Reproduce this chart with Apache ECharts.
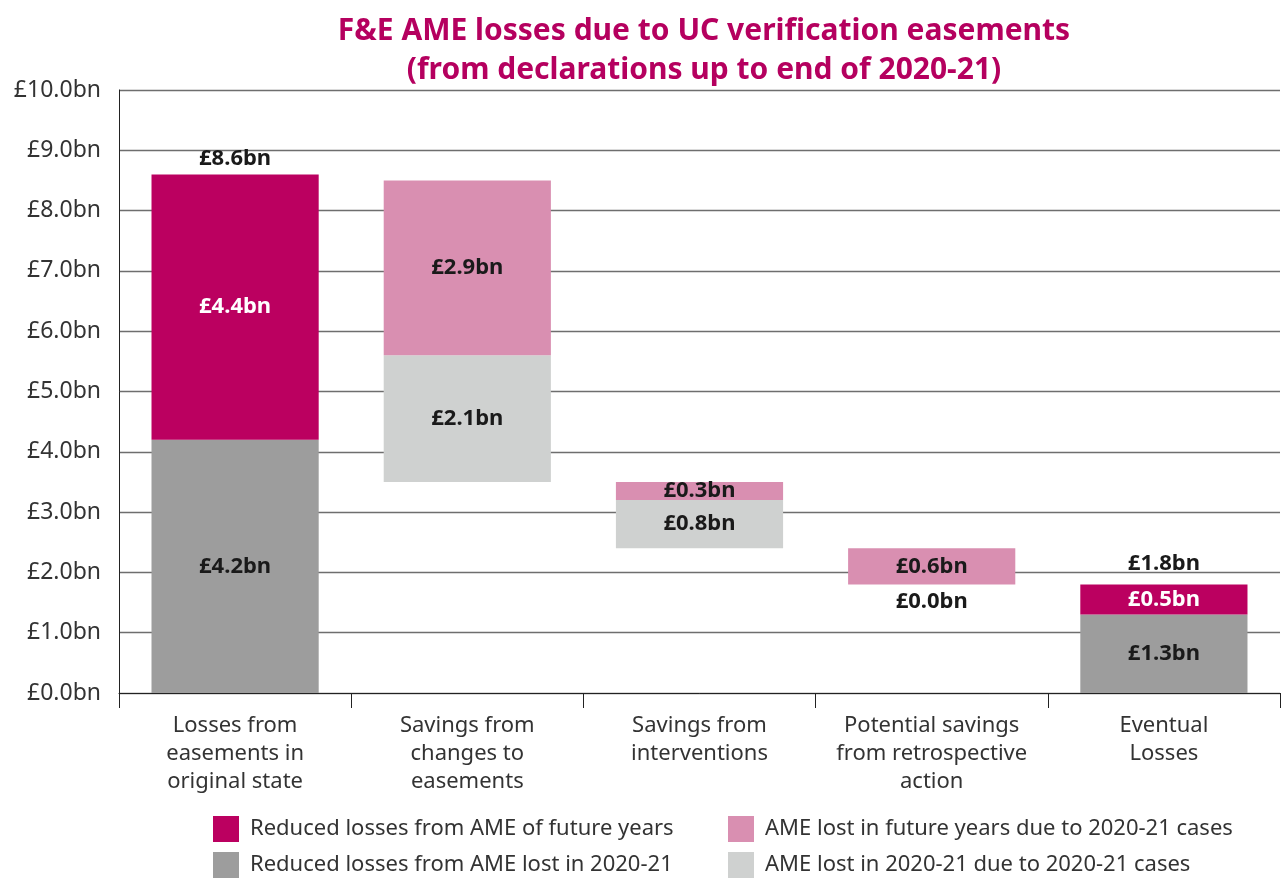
<!DOCTYPE html>
<html>
<head>
<meta charset="utf-8">
<script src="https://cdn.jsdelivr.net/npm/echarts@6/dist/echarts.min.js"></script>
<style>
  html, body { margin: 0; padding: 0; background: #fff; }
  #chart { width: 1286px; height: 880px; }
</style>
</head>
<body>
<div id="chart"></div>
<script>
const categories = [
  "Losses from\neasements in\noriginal state",
  "Savings from\nchanges to\neasements",
  "Savings from\ninterventions",
  "Potential savings\nfrom retrospective\naction",
  "Eventual\nLosses",
];

// invisible base of each floating bar
const baseValues = [0, 3.5, 2.4, 1.8, 0];
const lostIn2021 = [4.2, "-", "-", "-", 1.3];
const lostIn2021Cases = ["-", 2.1, 0.8, 0, "-"];
const futureYears = [4.4, "-", "-", "-", 0.5];
const futureYearsCases = ["-", 2.9, 0.3, 0.6, "-"];
const totals = [8.6, "-", "-", "-", 1.8];

const yTicks = [0, 1, 2, 3, 4, 5, 6, 7, 8, 9, 10];

const FONT = "Noto Sans";
const fmt = (v) => "£" + Number(v).toFixed(1) + "bn";

const valueLabel = (color) => ({
  show: true,
  position: "inside",
  fontFamily: FONT,
  fontWeight: "bold",
  fontSize: 22,
  color: color,
  formatter: (p) => fmt(p.value),
});

const legendText = { fontFamily: FONT, fontSize: 22, color: "#333", padding: [0, 0, 0, 6] };

var chart = echarts.init(document.getElementById("chart"));

var option = {
  animation: false,
  title: {
    text: "F&E AME losses due to UC verification easements\n(from declarations up to end of 2020-21)",
    left: 699,
    textAlign: "center",
    top: 7,
    textStyle: {
      fontFamily: FONT,
      fontWeight: "bold",
      fontSize: 30,
      lineHeight: 39,
      color: "#b5005f",
    },
  },
  grid: { left: 119, right: 6, top: 90, bottom: 187 },
  legend: [
    {
      left: 213,
      top: 816,
      padding: 0,
      orient: "vertical",
      itemWidth: 26,
      itemHeight: 26,
      itemGap: 10,
      icon: "rect",
      data: ["Reduced losses from AME of future years", "Reduced losses from AME lost in 2020-21"],
      textStyle: legendText,
    },
    {
      left: 728,
      top: 816,
      padding: 0,
      orient: "vertical",
      itemWidth: 26,
      itemHeight: 26,
      itemGap: 10,
      icon: "rect",
      data: ["AME lost in future years due to 2020-21 cases", "AME lost in 2020-21 due to 2020-21 cases"],
      textStyle: legendText,
    },
  ],
  xAxis: {
    type: "category",
    data: categories,
    axisLine: { lineStyle: { color: "#222", width: 1 } },
    axisTick: { show: true, length: 15, lineStyle: { color: "#222" } },
    axisLabel: {
      interval: 0,
      margin: 19,
      fontFamily: FONT,
      fontSize: 22,
      lineHeight: 28,
      color: "#333",
    },
  },
  yAxis: {
    type: "value",
    min: yTicks[0],
    max: yTicks[yTicks.length - 1],
    interval: 1,
    axisLine: { show: true, lineStyle: { color: "#222" } },
    axisTick: { show: false },
    splitLine: { lineStyle: { color: "#6e6e6e", width: 1.3 } },
    axisLabel: {
      margin: 18,
      fontFamily: FONT,
      fontSize: 23,
      color: "#333",
      formatter: (v) => fmt(v),
    },
  },
  series: [
    {
      name: "base",
      type: "bar",
      stack: "w",
      barWidth: "72%",
      silent: true,
      itemStyle: { color: "transparent" },
      data: baseValues,
    },
    {
      name: "Reduced losses from AME lost in 2020-21",
      type: "bar",
      stack: "w",
      itemStyle: { color: "#9d9d9d" },
      label: valueLabel("#1a1a1a"),
      data: lostIn2021,
    },
    {
      name: "AME lost in 2020-21 due to 2020-21 cases",
      type: "bar",
      stack: "w",
      itemStyle: { color: "#cfd1d0" },
      label: valueLabel("#1a1a1a"),
      data: lostIn2021Cases.map((v) =>
        v === 0 ? { value: v, label: { position: "bottom", distance: 6 } } : v
      ),
    },
    {
      name: "Reduced losses from AME of future years",
      type: "bar",
      stack: "w",
      itemStyle: { color: "#bb0060" },
      label: valueLabel("#ffffff"),
      data: futureYears,
    },
    {
      name: "AME lost in future years due to 2020-21 cases",
      type: "bar",
      stack: "w",
      itemStyle: { color: "#d98fb1" },
      label: valueLabel("#1a1a1a"),
      data: futureYearsCases,
    },
    {
      name: "totals",
      type: "scatter",
      symbolSize: 0,
      silent: true,
      itemStyle: { opacity: 1 },
      label: {
        show: true,
        position: "top",
        distance: 5,
        fontFamily: FONT,
        fontWeight: "bold",
        fontSize: 22,
        color: "#1a1a1a",
        opacity: 1,
        formatter: (p) => fmt(p.value),
      },
      data: totals.map((v, i) =>
        i === totals.length - 1 ? { value: v, label: { distance: 10 } } : v
      ),
    },
  ],
};

option && chart.setOption(option);
</script>
</body>
</html>
